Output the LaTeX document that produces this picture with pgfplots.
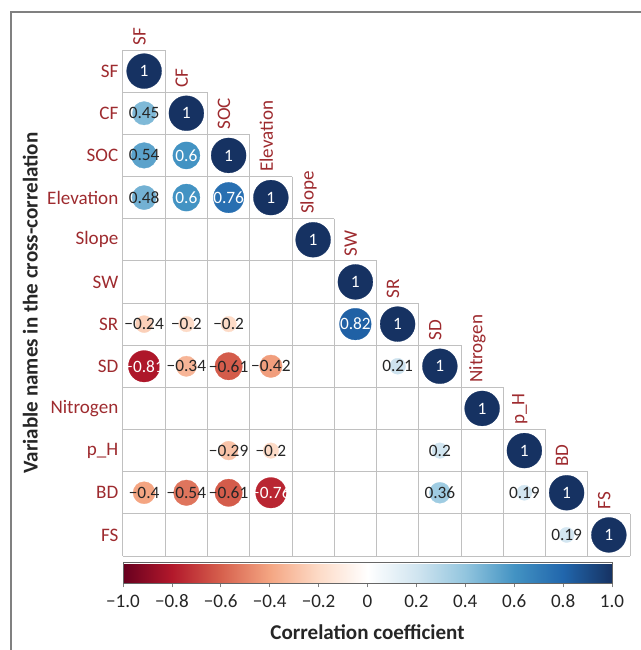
\documentclass[border=0pt]{standalone}
\usepackage{fontspec}
\setmainfont{Carlito}
\usepackage{pgfplots}
\usepackage{pgfplotstable}
\pgfplotsset{compat=1.18}

\definecolor{labred}{RGB}{158,43,47}
\definecolor{gridgray}{RGB}{192,192,192}
\definecolor{framegray}{RGB}{128,128,128}
\newcommand{\lbfont}{\fontsize{14.3}{17}\selectfont}
\newcommand{\titfont}{\fontsize{15.8}{19}\selectfont}
\newcommand{\cellfont}{\fontsize{13}{15}\selectfont}

% lower triangle of the correlation matrix (row, column, r); tw=100 -> white text
\pgfplotstableread{
row col r lbl tw
1 1 1 1 100
2 1 0.45 0.45 0
2 2 1 1 100
3 1 0.54 0.54 0
3 2 0.6 0.6 100
3 3 1 1 100
4 1 0.48 0.48 0
4 2 0.6 0.6 100
4 3 0.76 0.76 100
4 4 1 1 100
5 5 1 1 100
6 6 1 1 100
7 1 -0.24 −0.24 0
7 2 -0.2 −0.2 0
7 3 -0.2 −0.2 0
7 6 0.82 0.82 100
7 7 1 1 100
8 1 -0.81 −0.81 100
8 2 -0.34 −0.34 0
8 3 -0.61 −0.61 0
8 4 -0.42 −0.42 0
8 7 0.21 0.21 0
8 8 1 1 100
9 9 1 1 100
10 3 -0.29 −0.29 0
10 4 -0.2 −0.2 0
10 8 0.2 0.2 0
10 10 1 1 100
11 1 -0.4 −0.4 0
11 2 -0.54 −0.54 0
11 3 -0.61 −0.61 0
11 4 -0.76 −0.76 100
11 8 0.36 0.36 0
11 10 0.19 0.19 0
11 11 1 1 100
12 11 0.19 0.19 0
12 12 1 1 100
}\corr

\pgfplotstableread{
x y name
1 0.5 SF
2 1.5 CF
3 2.5 SOC
4 3.5 Elevation
5 4.5 Slope
6 5.5 SW
7 6.5 SR
8 7.5 SD
9 8.5 Nitrogen
10 9.5 p\_H
11 10.5 BD
12 11.5 FS
}\colnames

\begin{document}
\begin{tikzpicture}
\useasboundingbox (0,0) rectangle (480.75pt,-487.5pt);
\draw[framegray, line width=1.5pt] (8.25pt,-487.5pt) -- (8.25pt,-9pt) -- (480.75pt,-9pt);
\begin{axis}[
    at={(92.25pt,-37.5pt)}, anchor=north west,
    scale only axis, width=380.25pt, height=379.5pt,
    xmin=0.5, xmax=12.5, ymin=0.5, ymax=12.5,
    y dir=reverse, clip=false,
    axis line style={draw=none},
    xtick=\empty,
    ytick={1,...,12},
    yticklabels={SF,CF,SOC,Elevation,Slope,SW,SR,SD,Nitrogen,p\_H,BD,FS},
    major tick length=0pt,
    yticklabel style={text=labred, font=\lbfont},
    ylabel={\bfseries Variable names in the cross-correlation},
    ylabel style={at={(axis description cs:-0.183,0.5)}, anchor=center, font=\titfont, text=black!85},
    colormap={rdbu}{rgb255=(103,0,31) rgb255=(178,24,43) rgb255=(214,96,77)
        rgb255=(244,165,130) rgb255=(253,219,199) rgb255=(255,255,255)
        rgb255=(209,229,240) rgb255=(146,197,222) rgb255=(67,147,195)
        rgb255=(33,102,172) rgb255=(22,50,98)},
    point meta min=-1, point meta max=1,
    colorbar horizontal,
    colorbar style={
        at={(0,-0.0125)}, anchor=north west,
        scale only axis, width=366.75pt, height=15.75pt,
        xtick={-1,-0.8,...,1},
        xticklabels={−1.0,−0.8,−0.6,−0.4,−0.2,0,0.2,0.4,0.6,0.8,1.0},
        xtick pos=left, xticklabel pos=left,
        tick align=outside, major tick length=3pt,
        tick style={framegray, line width=0.6pt},
        axis line style={black!60, line width=0.6pt},
        tick label style={font=\lbfont, text=black!85},
        xticklabel style={yshift=-2pt},
        xlabel={\bfseries Correlation coefficient},
        xlabel style={font=\titfont, text=black!85, yshift=-6pt},
    },
]
% staircase grid of the lower triangle
\pgfplotsinvokeforeach{0,...,12}{
  \draw[gridgray, line width=0.75pt] (axis cs:0.5,#1+0.5) -- (axis cs:{min(#1+1,12)+0.5},#1+0.5);
  \draw[gridgray, line width=0.75pt] (axis cs:#1+0.5,{max(#1,1)-0.5}) -- (axis cs:#1+0.5,12.5);
}
\addplot[scatter, only marks, mark=*, point meta=explicit,
    mark options={line width=0.2pt},
    scatter/use mapped color={draw=mapped color, fill=mapped color},
    visualization depends on={13.1*sqrt(abs(\thisrow{r}))\as\msize},
    scatter/@pre marker code/.append style={/tikz/mark size=\msize}]
    table[x=col, y=row, meta=r] {\corr};
\addplot[only marks, mark=none, draw=none,
    point meta=explicit symbolic,
    visualization depends on={\thisrow{tw}\as\tw},
    nodes near coords,
    nodes near coords style={anchor=center, inner sep=0pt, font=\cellfont, text=white!\tw!black!85}]
    table[x=col, y=row, meta=lbl] {\corr};
\addplot[only marks, mark=none, draw=none,
    point meta=explicit symbolic,
    nodes near coords,
    nodes near coords style={rotate=90, anchor=west, yshift=3.5pt, font=\lbfont, text=labred}]
    table[x=x, y=y, meta=name] {\colnames};
\end{axis}
\end{tikzpicture}
\end{document}
